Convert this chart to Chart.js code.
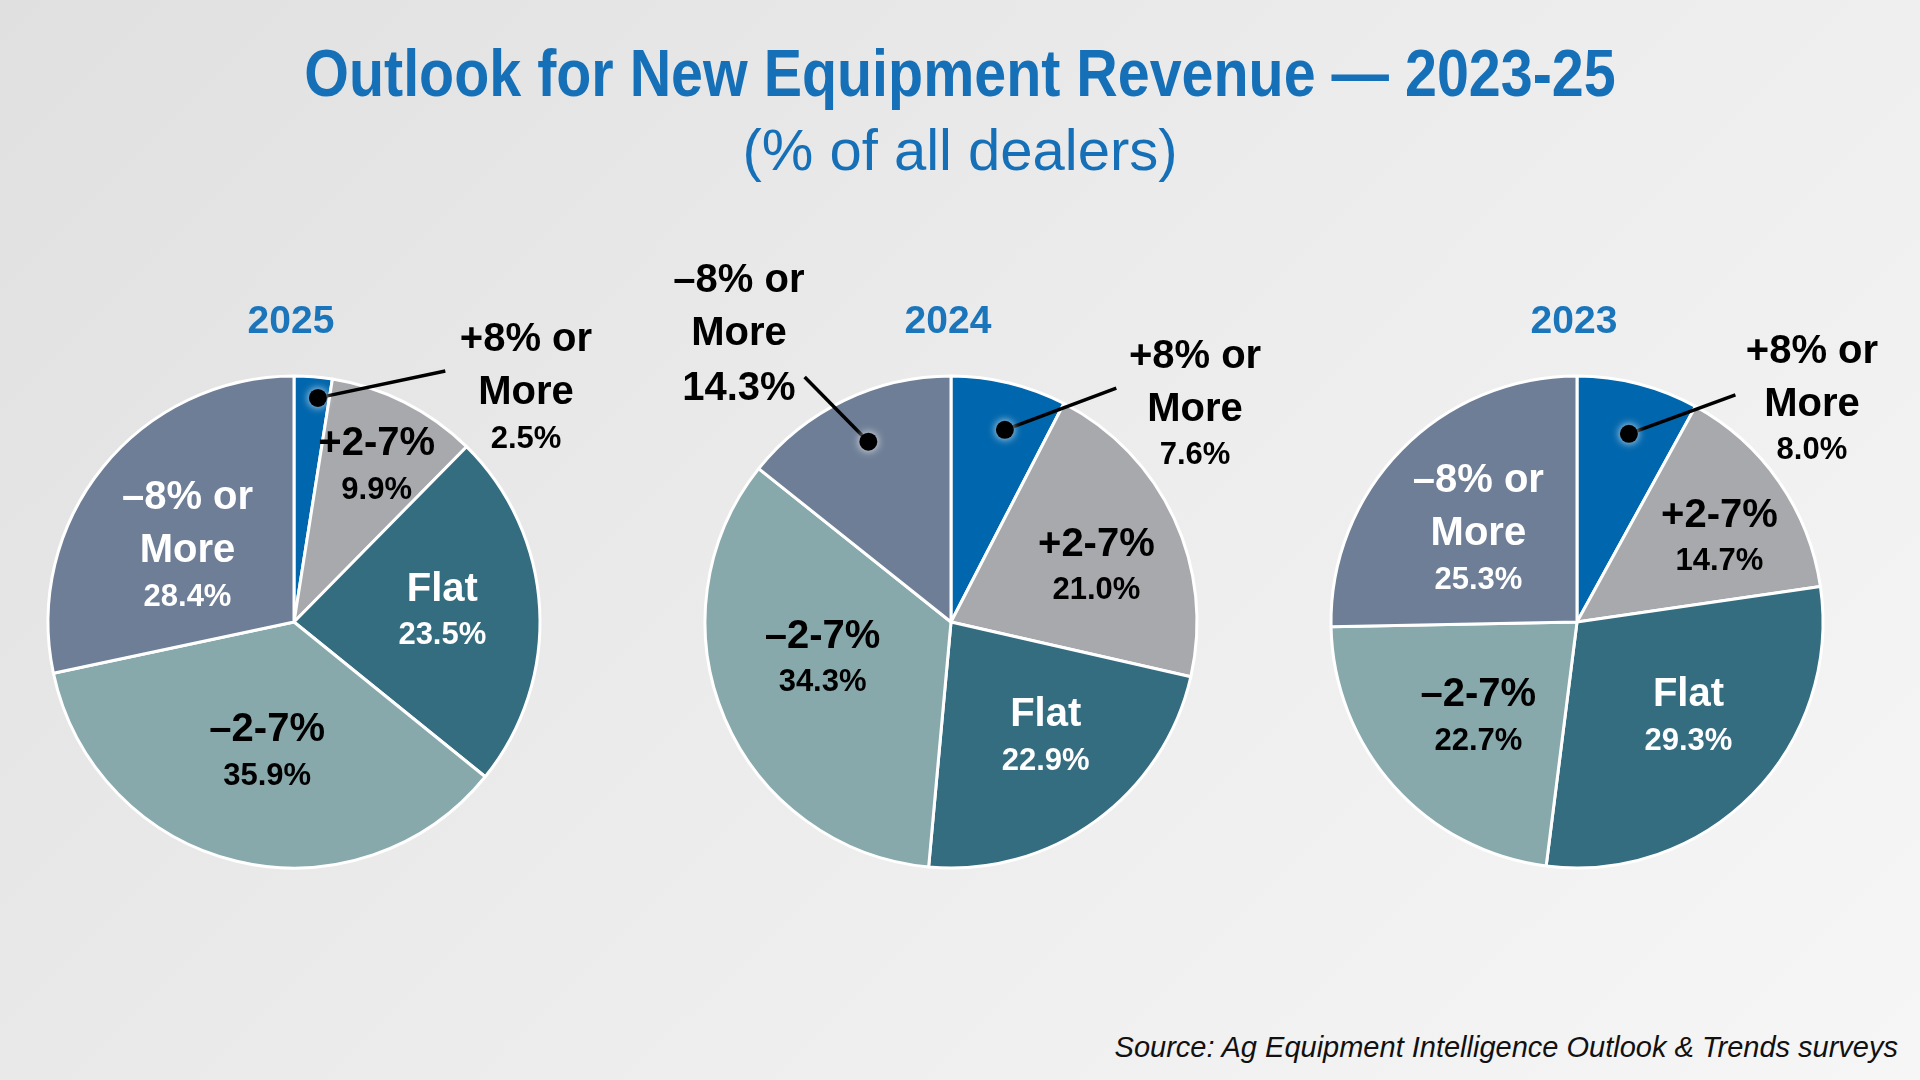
<!DOCTYPE html>
<html>
<head>
<meta charset="utf-8">
<title>Outlook for New Equipment Revenue</title>
<script src="https://cdn.jsdelivr.net/npm/chart.js@4.4.1/dist/chart.umd.min.js"></script>
<style>
  html, body { margin: 0; padding: 0; }
  body {
    width: 1920px; height: 1080px; overflow: hidden; position: relative;
    background: linear-gradient(135deg, #e0e0e0 0%, #ebebeb 45%, #f6f6f6 100%);
    font-family: "Liberation Sans", Arial, sans-serif;
  }
  .title {
    position: absolute; left: 0; width: 1920px; text-align: center;
    color: #1670b8; line-height: 1; white-space: nowrap;
  }
  #main { top: 40px; font-size: 66px; font-weight: bold; transform: scaleX(0.87); transform-origin: 960px 0; }
  #sub { top: 121px; font-size: 58px; font-weight: normal; }
  #source {
    position: absolute; right: 22px; top: 1033px; font-size: 29px; line-height: 1;
    font-style: italic; color: #111;
  }
  canvas { position: absolute; top: 222px; }
</style>
</head>
<body>
<div class="title" id="main">Outlook for New Equipment Revenue — 2023-25</div>
<div class="title" id="sub">(% of all dealers)</div>

<canvas id="pie2025" width="800" height="800" style="left:-106px"></canvas>
<canvas id="pie2024" width="800" height="800" style="left:551px"></canvas>
<canvas id="pie2023" width="800" height="800" style="left:1177px"></canvas>

<div id="source">Source: Ag Equipment Intelligence Outlook &amp; Trends surveys</div>

<script>
// categories, clockwise from 12 o'clock
const categories = ['+8% or More', '+2-7%', 'Flat', '–2-7%', '–8% or More'];
const nameLines = [['+8% or', 'More'], ['+2-7%'], ['Flat'], ['–2-7%'], ['–8% or', 'More']];

const values2025 = [2.5, 9.9, 23.5, 35.9, 28.4];
const values2024 = [7.6, 21.0, 22.9, 34.3, 14.3];
const values2023 = [8.0, 14.7, 29.3, 22.7, 25.3];

const sliceColors = ['#0066ad', '#a7a9ac', '#356d80', '#88a9ac', '#6e7e96'];

const FONT = '"Liberation Sans", Arial, sans-serif';
const NAME_SIZE = 40;
const VALUE_SIZE = 31;

// label placement, in units of the pie radius from its centre
const place2025 = [
    { x: 0.943, y: -0.931, color: '#000', dot: [0.097, -0.911], end: [0.615, -1.020] },
    { x: 0.336, y: -0.630, color: '#000' },
    { x: 0.603, y: -0.038, color: '#fff' },
    { x: -0.109, y: 0.534, color: '#000' },
    { x: -0.433, y: -0.287, color: '#fff' }
];
const place2024 = [
    { x: 0.992, y: -0.862, color: '#000', dot: [0.219, -0.781], end: [0.672, -0.951] },
    { x: 0.591, y: -0.221, color: '#000' },
    { x: 0.385, y: 0.472, color: '#fff' },
    { x: -0.522, y: 0.154, color: '#000' },
    { x: -0.862, y: -1.170, color: '#000', dot: [-0.336, -0.733], end: [-0.595, -0.996], bigValue: true }
];
const place2023 = [
    { x: 0.955, y: -0.883, color: '#000', dot: [0.211, -0.765], end: [0.644, -0.923] },
    { x: 0.579, y: -0.338, color: '#000' },
    { x: 0.453, y: 0.391, color: '#fff' },
    { x: -0.401, y: 0.391, color: '#000' },
    { x: -0.401, y: -0.356, color: '#fff' }
];

const sliceLabels = {
    id: 'sliceLabels',
    afterDatasetsDraw(chart, args, opts) {
        const ctx = chart.ctx;
        const arc = chart.getDatasetMeta(0).data[0];
        const cx = arc.x, cy = arc.y, R = arc.outerRadius;
        const values = chart.data.datasets[0].data;

        ctx.save();
        ctx.textAlign = 'center';
        ctx.textBaseline = 'middle';

        // year heading
        ctx.fillStyle = '#1b75bb';
        ctx.font = `bold 39px ${FONT}`;
        ctx.fillText(opts.year, cx - 3, cy - 1.219 * R);

        opts.placements.forEach((p, i) => {
            const x = cx + p.x * R;
            const y = cy + p.y * R;

            if (p.dot) {
                const dx = cx + p.dot[0] * R, dy = cy + p.dot[1] * R;
                ctx.strokeStyle = '#000';
                ctx.lineWidth = 3.5;
                ctx.beginPath();
                ctx.moveTo(cx + p.end[0] * R, cy + p.end[1] * R);
                ctx.lineTo(dx, dy);
                ctx.stroke();
                ctx.save();
                ctx.shadowColor = 'rgba(255,255,255,0.9)';
                ctx.shadowBlur = 8;
                ctx.fillStyle = '#000';
                ctx.beginPath();
                ctx.arc(dx, dy, 9, 0, Math.PI * 2);
                ctx.fill();
                ctx.restore();
            }

            const names = nameLines[i];
            const valueText = values[i].toFixed(1) + '%';
            let offsets;
            if (names.length === 2) {
                offsets = [-53, 0, p.bigValue ? 55 : 46];
            } else {
                offsets = [-23, 23];
            }
            ctx.fillStyle = p.color;
            ctx.font = `bold ${NAME_SIZE}px ${FONT}`;
            names.forEach((t, k) => ctx.fillText(t, x, y + offsets[k]));
            ctx.font = `bold ${p.bigValue ? NAME_SIZE : VALUE_SIZE}px ${FONT}`;
            ctx.fillText(valueText, x, y + offsets[names.length]);
        });
        ctx.restore();
    }
};

function makePie(id, year, values, placements) {
    new Chart(document.getElementById(id), {
        type: 'pie',
        data: {
            labels: categories,
            datasets: [{
                data: values,
                backgroundColor: sliceColors,
                borderColor: '#ffffff',
                borderWidth: 3,
                hoverOffset: 0
            }]
        },
        options: {
            responsive: false,
            animation: false,
            events: [],
            radius: 246,
            layout: { padding: 0 },
            plugins: {
                legend: { display: false },
                tooltip: { enabled: false },
                sliceLabels: { year: year, placements: placements }
            }
        },
        plugins: [sliceLabels]
    });
}

makePie('pie2025', '2025', values2025, place2025);
makePie('pie2024', '2024', values2024, place2024);
makePie('pie2023', '2023', values2023, place2023);
</script>
</body>
</html>
